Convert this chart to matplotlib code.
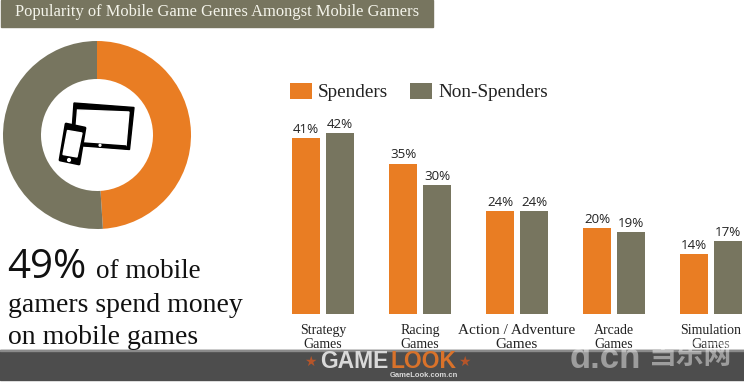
# Mobile game genres, spenders vs non-spenders
import matplotlib
matplotlib.use('Agg')
import matplotlib.pyplot as plt
from matplotlib.patches import Polygon, Rectangle, Circle

W = 744.0
H = 382.0

genres = ['Strategy\nGames', 'Racing\nGames', 'Action / Adventure\nGames', 'Arcade\nGames', 'Simulation\nGames']
spenders = [41, 35, 24, 20, 14]
non_spenders = [42, 30, 24, 19, 17]
share = [49, 51]

orange = '#e97d23'
olive = '#77755f'
serif = 'Liberation Serif'
sans = 'Open Sans'

fig = plt.figure(figsize=(W/100, H/100), dpi=100, facecolor='white')

def px_axes(left, top, right, bottom, **kw):
    return fig.add_axes([left/W, 1-bottom/H, (right-left)/W, (bottom-top)/H], **kw)

# Bars: 97 px between groups, baseline at y=314, 4.3 px per percent
ax = px_axes(274.5, 120, 744, 314, zorder=1)
ax.patch.set_alpha(0)
xs = list(range(len(genres)))
b1 = ax.bar([x-0.175 for x in xs], spenders, 0.29, color=orange, label='Spenders')
b2 = ax.bar([x+0.175 for x in xs], non_spenders, 0.29, color=olive, label='Non-Spenders')
for b in (b1, b2):
    ax.bar_label(b, fmt='%d%%', padding=1.5, fontsize=9.6, family=sans, color='#222222')
ax.set_xlim(-0.5, -0.5+469.5/97)
ax.set_ylim(0, 194/4.3)
ax.set_yticks([])
ax.set_xticks(xs)
ax.set_xticklabels(genres, family=serif, fontsize=10, color='#222222', linespacing=1.12)
ax.get_xticklabels()[2].set_fontsize(11)
ax.tick_params(axis='x', length=0, pad=7)
for s in ax.spines.values():
    s.set_visible(False)
ax.legend(loc='upper left', bbox_to_anchor=(290/W, 1-82.5/H), bbox_transform=fig.transFigure,
          ncol=2, frameon=False, borderpad=0, borderaxespad=0, handlelength=1.15, handleheight=0.95,
          handletextpad=0.31, columnspacing=1.15, prop={'family': serif, 'size': 13.8}, labelcolor='#222222')

# Donut
pie_ax = px_axes(3, 41, 191, 229, zorder=1)
pie_ax.pie(share, colors=[orange, olive], startangle=90, counterclock=False, radius=1,
           wedgeprops={'width': 38/94.0})
pie_ax.set_xlim(-1, 1)
pie_ax.set_ylim(-1, 1)

# Everything else in pixel coordinates on top
top = px_axes(0, 0, W, H, zorder=3)
top.set_xlim(0, W)
top.set_ylim(H, 0)
top.axis('off')
top.patch.set_alpha(0)

# Title banner
top.add_patch(Rectangle((1, 0), 432, 27, color=olive))
top.text(15, 12, 'Popularity of Mobile Game Genres Amongst Mobile Gamers', color='#f4f4ea',
         family=serif, fontsize=11.9, va='center', ha='left')

# Tablet and phone icon
top.add_patch(Polygon([(74, 103), (134, 107.5), (129.5, 149.5), (71, 145)], closed=True, color='black'))
top.add_patch(Polygon([(77.5, 110), (129, 112), (126, 146), (75, 142)], closed=True, color='white'))
top.add_patch(Polygon([(84, 143), (126, 146), (125.5, 148.5), (84, 145.5)], closed=True, color='black'))
top.add_patch(Polygon([(66, 124), (85, 128), (79, 164), (60, 160)], closed=True, color='black', lw=2, joinstyle='round'))
top.add_patch(Polygon([(67.5, 130.5), (82, 133), (77, 157), (63, 154.5)], closed=True, color='white'))
top.add_patch(Circle((69, 160), 1.4, color='white'))
top.add_patch(Circle((100, 145.3), 0.9, color='white'))

# Headline text
top.text(7, 278, '49%', family=sans, fontsize=29, color='#111111', va='baseline')
top.text(96, 278, 'of mobile', family=serif, fontsize=19.5, color='#111111', va='baseline')
top.text(8, 312, 'gamers spend money', family=serif, fontsize=20, color='#111111', va='baseline')
top.text(8, 344, 'on mobile games', family=serif, fontsize=20, color='#111111', va='baseline')

# Footer strip with logos
top.add_patch(Rectangle((0, 350), W, 30, color='#4d4d4d'))
top.add_patch(Rectangle((0, 349.5), W, 1, color='#8a8a8a'))
top.text(320, 361.5, 'GAME', family='Liberation Sans', fontweight='bold', fontsize=16.5, color='#d9d9d9', va='center')
top.text(390, 361.5, 'LOOK', family='Liberation Sans', fontweight='bold', fontsize=16.5, color='#d9722a', va='center')
top.text(310, 362, '★', family='DejaVu Sans', fontsize=10, color='#b5552a', va='center', ha='center')
top.text(464, 362, '★', family='DejaVu Sans', fontsize=10, color='#b5552a', va='center', ha='center')
top.text(390, 375.5, 'GameLook.com.cn', family='Liberation Sans', fontweight='bold', fontsize=5.5, color='#d9d9d9', va='center', ha='left')
top.text(570, 358, 'd.cn', family='Liberation Sans', fontweight='bold', fontsize=25, color='white', alpha=0.45, va='center')
top.text(648, 356, '当乐网', family='Noto Sans CJK SC', fontweight='bold', fontsize=20, color='white', alpha=0.45, va='center')

fig.savefig('out.png', dpi=100)
